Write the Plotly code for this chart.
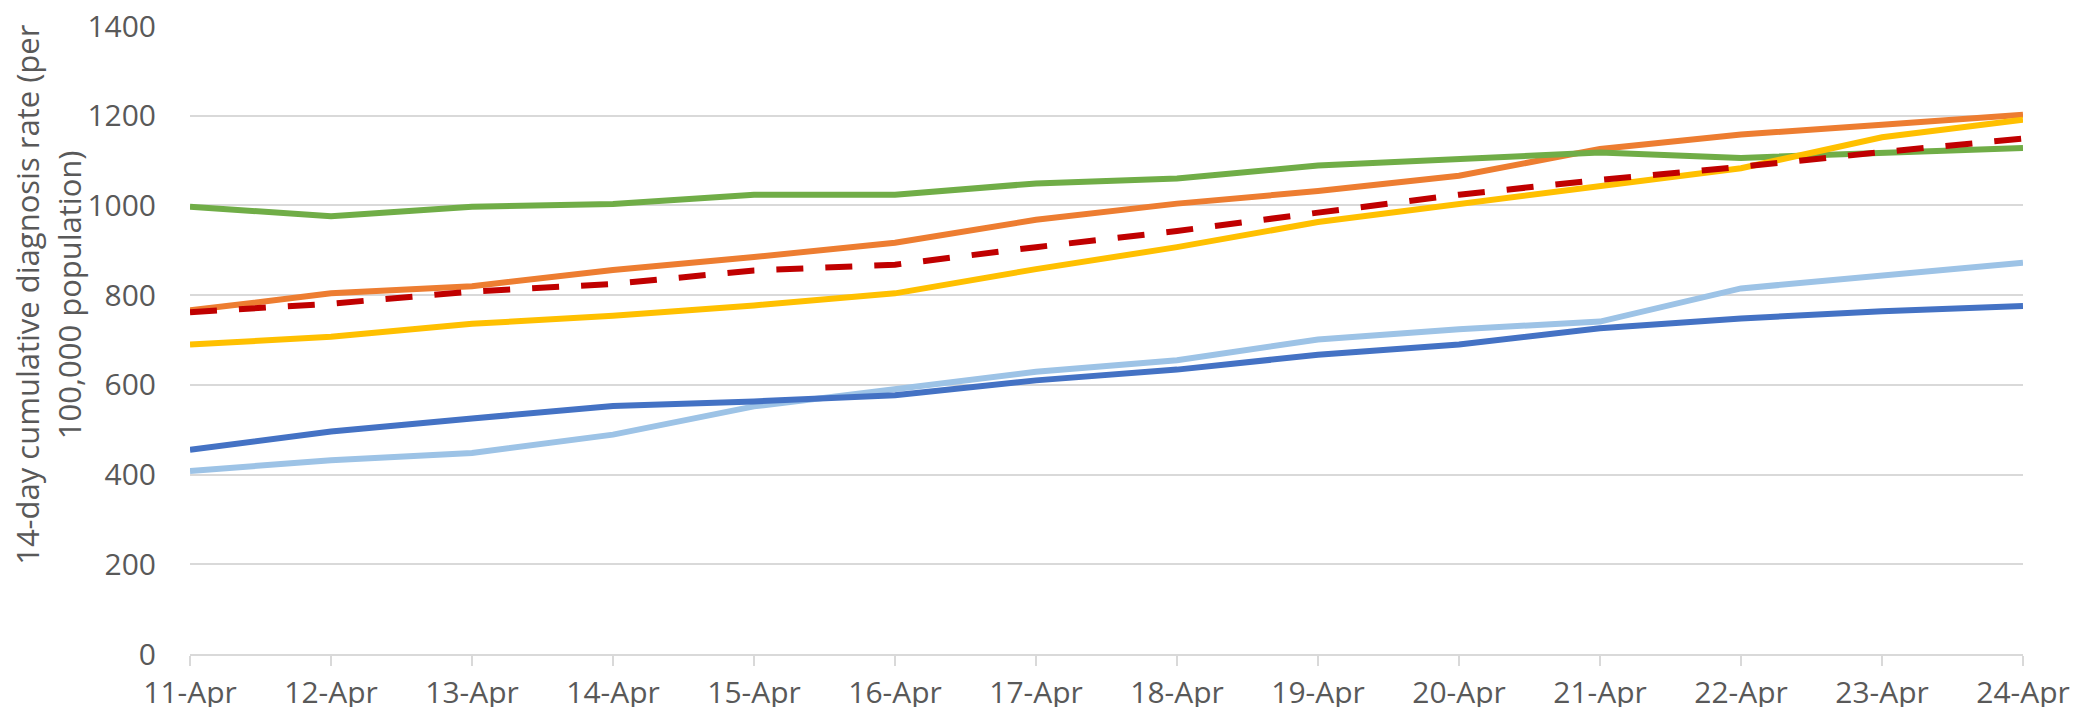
import plotly.graph_objects as go

dates = ["11-Apr", "12-Apr", "13-Apr", "14-Apr", "15-Apr", "16-Apr", "17-Apr",
         "18-Apr", "19-Apr", "20-Apr", "21-Apr", "22-Apr", "23-Apr", "24-Apr"]

light_blue_vals = [408, 432, 448, 489, 552, 589, 629, 655, 701, 724, 741, 815, 844, 872]
blue_vals = [455, 496, 525, 553, 563, 577, 610, 634, 667, 690, 726, 748, 764, 776]
orange_vals = [766, 804, 820, 856, 885, 917, 968, 1004, 1032, 1066, 1126, 1158, 1180, 1202]
yellow_vals = [690, 707, 736, 754, 777, 804, 858, 907, 963, 1004, 1042, 1083, 1152, 1191]
green_vals = [997, 976, 997, 1003, 1024, 1024, 1049, 1060, 1089, 1104, 1118, 1106, 1116, 1128]
overall_vals = [762, 781, 808, 825, 855, 868, 907, 943, 984, 1024, 1057, 1086, 1119, 1149]

y_ticks = [0, 200, 400, 600, 800, 1000, 1200, 1400]
title_lines = ["14-day cumulative diagnosis rate (per", "100,000 population)"]

series = [
    ("Light blue", light_blue_vals, "#9DC3E6", "solid"),
    ("Blue", blue_vals, "#4472C4", "solid"),
    ("Orange", orange_vals, "#ED7D31", "solid"),
    ("Green", green_vals, "#70AD47", "solid"),
    ("Yellow", yellow_vals, "#FFC000", "solid"),
    ("Overall", overall_vals, "#C00000", "27px,22px"),
]

fig = go.Figure()
for name, vals, color, dash in series:
    fig.add_trace(go.Scatter(
        x=dates, y=vals, mode="lines", name=name,
        line=dict(color=color, width=6, dash=dash),
    ))

font_family = "Open Sans, Noto Sans, sans-serif"
title_font = dict(size=31, color="#595959", family=font_family)
fig.update_layout(
    width=2065, height=699,
    margin=dict(l=182, r=50, t=18, b=53),
    paper_bgcolor="white", plot_bgcolor="white",
    showlegend=False,
    font=dict(family=font_family, size=30, color="#595959"),
    xaxis=dict(
        type="category", range=[0, len(dates) - 1],
        automargin=False,
        showgrid=False, zeroline=False,
        showline=True, linecolor="#D9D9D9", linewidth=2,
        ticks="outside", ticklen=10, tickwidth=2, tickcolor="#D9D9D9",
        tickfont=dict(size=30, color="#595959"),
        ticklabelstandoff=1,
        ticklabeloverflow="allow",
        dtick=1,
    ),
    yaxis=dict(
        range=[0, 1400], tickvals=y_ticks,
        automargin=False,
        showgrid=True, gridcolor="#D9D9D9", gridwidth=2,
        zeroline=False, showline=False,
        tickfont=dict(size=30, color="#595959"),
        ticklabelstandoff=33,
        ticklabeloverflow="allow",
    ),
    annotations=[
        dict(text=title_lines[0], xref="paper", yref="paper", x=-0.0889, y=0.572,
             xanchor="center", yanchor="middle", textangle=-90,
             showarrow=False, font=title_font),
        dict(text=title_lines[1], xref="paper", yref="paper", x=-0.0663, y=0.572,
             xanchor="center", yanchor="middle", textangle=-90,
             showarrow=False, font=title_font),
    ],
)

fig.write_html("out.html")
